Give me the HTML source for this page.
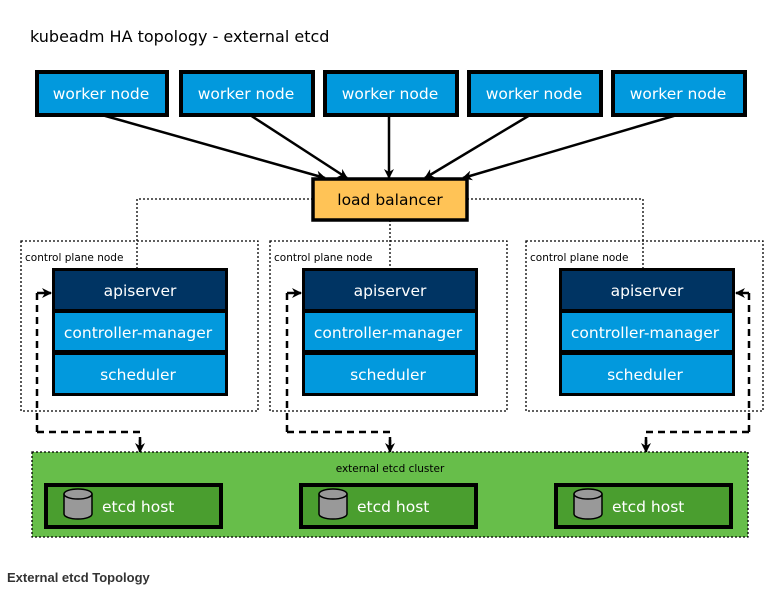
<!DOCTYPE html>
<html><head><meta charset="utf-8"><style>
html,body{margin:0;padding:0;background:#fff;}
svg{display:block;font-family:"DejaVu Sans","Liberation Sans",sans-serif;}
</style></head><body>
<svg width="775" height="597" viewBox="0 0 775 597" xmlns="http://www.w3.org/2000/svg">
<defs>
<marker id="a" markerWidth="10" markerHeight="10" refX="9" refY="5" orient="auto" markerUnits="userSpaceOnUse"><path d="M0,0 L10,5 L0,10 L3,5 z" fill="#000"/></marker>
</defs>
<text x="30" y="42" font-size="16" fill="#000">kubeadm HA topology - external etcd</text>
<g stroke="#000" stroke-width="4" fill="#0299dd">
<rect x="37" y="72" width="130" height="43"/>
<rect x="181" y="72" width="132" height="43"/>
<rect x="325" y="72" width="132" height="43"/>
<rect x="469" y="72" width="132" height="43"/>
<rect x="613" y="72" width="132" height="43"/>
</g>
<g fill="#fff" font-size="15.5" text-anchor="middle">
<text x="101" y="99">worker node</text><text x="246" y="99">worker node</text><text x="390" y="99">worker node</text><text x="534" y="99">worker node</text><text x="678" y="99">worker node</text>
</g>
<g stroke="#000" stroke-width="2.5" marker-end="url(#a)">
<line x1="102" y1="115" x2="325" y2="178"/>
<line x1="250" y1="115" x2="347" y2="178"/>
<line x1="389" y1="115" x2="389" y2="178"/>
<line x1="530" y1="115" x2="425" y2="178"/>
<line x1="677" y1="115" x2="463" y2="178"/>
</g>
<g fill="none" stroke="#000" stroke-width="1.3" stroke-dasharray="2,2">
<polyline points="313,199 137,199 137,268"/>
<polyline points="467,199 643,199 643,268"/>
<line x1="390" y1="220" x2="390" y2="268"/>
<rect x="21" y="241" width="237" height="170"/>
<rect x="270" y="241" width="237" height="170"/>
<rect x="526" y="241" width="237" height="170"/>
</g>
<rect x="313" y="179" width="154" height="41" fill="#ffc356" stroke="#000" stroke-width="3.5"/>
<text x="390" y="205" font-size="15.5" text-anchor="middle">load balancer</text>
<g font-size="10.5"><text x="25" y="261">control plane node</text><text x="274" y="261">control plane node</text><text x="530" y="261">control plane node</text></g>
<g id="s">
<rect x="52" y="268" width="176" height="128" fill="#000"/>
<rect x="55" y="271" width="170" height="38" fill="#003463"/>
<rect x="55" y="313" width="170" height="37" fill="#0299dd"/>
<rect x="55" y="355" width="170" height="38" fill="#0299dd"/>
<g fill="#fff" font-size="15.5" text-anchor="middle"><text x="140" y="296">apiserver</text><text x="138" y="338">controller-manager</text><text x="138" y="380">scheduler</text></g>
</g>
<use href="#s" x="250"/>
<use href="#s" x="507"/>
<g fill="none" stroke="#000" stroke-width="2.5" stroke-dasharray="7,5">
<polyline points="37,432 37,293"/>
<polyline points="37,432 140,432 140,445"/>
<polyline points="287,432 287,293"/>
<polyline points="287,432 390,432 390,445"/>
<polyline points="749,432 749,293"/>
<polyline points="749,432 646,432 646,445"/>
</g>
<g stroke="#000" stroke-width="2.5" marker-end="url(#a)">
<line x1="37" y1="293" x2="51" y2="293"/>
<line x1="287" y1="293" x2="301" y2="293"/>
<line x1="749" y1="293" x2="736" y2="293"/>
<line x1="140" y1="440" x2="140" y2="452"/>
<line x1="390" y1="440" x2="390" y2="452"/>
<line x1="646" y1="440" x2="646" y2="452"/>
</g>
<rect x="32" y="452" width="716" height="85" fill="#67be4a" stroke="#000" stroke-width="1.3" stroke-dasharray="2,2"/>
<text x="390" y="472" font-size="10.5" text-anchor="middle">external etcd cluster</text>
<g id="e">
<rect x="46" y="485" width="175" height="42" fill="#4a9e2f" stroke="#000" stroke-width="4"/>
<path d="M64,494 v20 a14,5 0 0 0 28,0 v-20" fill="#999" stroke="#000" stroke-width="1.5"/>
<ellipse cx="78" cy="494" rx="14" ry="5" fill="#999" stroke="#000" stroke-width="1.5"/>
<text x="102" y="512" font-size="15.5" fill="#fff">etcd host</text>
</g>
<use href="#e" x="255"/>
<use href="#e" x="510"/>
<text x="7" y="582" font-size="13" font-weight="bold" fill="#333" font-family="Liberation Sans, sans-serif">External etcd Topology</text>
</svg>
</body></html>
